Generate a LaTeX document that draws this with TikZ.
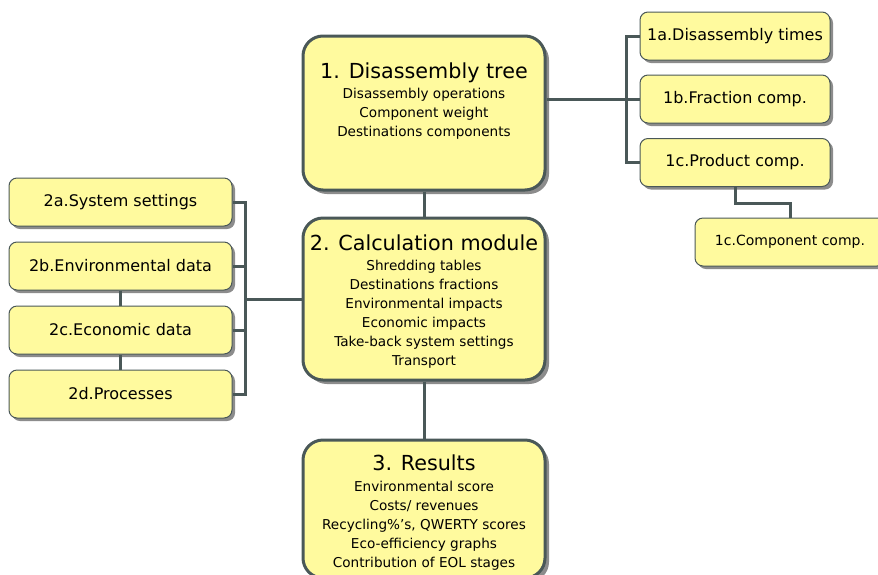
\documentclass[tikz,border=0pt]{standalone}
\usepackage{fontspec}
\setmainfont{DejaVu Sans}
\usetikzlibrary{shadows}
\definecolor{boxfill}{HTML}{FFFA9E}
\definecolor{edgecol}{HTML}{4A5858}
\definecolor{shade}{HTML}{8C8C8C}
\tikzset{
 bigbox/.style={draw=edgecol, line width=3pt, fill=boxfill, rounded corners=20pt, minimum width=242pt, inner sep=0pt,
   drop shadow={shadow xshift=4pt, shadow yshift=-4pt, fill=shade, opacity=1}},
 smallbox/.style={draw=edgecol, line width=1pt, fill=boxfill, rounded corners=8pt, minimum width=190pt, minimum height=48pt, inner sep=0pt,
   drop shadow={shadow xshift=3pt, shadow yshift=-3pt, fill=shade, opacity=1}, font=\fontsize{16}{19}\selectfont},
 leftbox/.style={smallbox, minimum width=223pt},
 conn/.style={draw=edgecol, line width=3pt},
 titletext/.style={font=\fontsize{20.7}{24}\selectfont, inner sep=0pt},
 subtext/.style={font=\fontsize{13.6}{19}\selectfont, align=center, inner sep=0pt},
}
\begin{document}
\begin{tikzpicture}[x=1pt,y=-1pt]
\useasboundingbox[fill=white] (0,0) rectangle (878,574);
% big boxes
\node[bigbox, minimum height=154pt] (b1) at (424,113) {};
\node[bigbox, minimum height=162pt] (b2) at (424,299) {};
\node[bigbox, minimum height=138pt] (b3) at (424,509) {};
\node[titletext] (t1) at (424,73) {1. Disassembly tree};
\node[subtext] (d1) at (424,114) {Disassembly operations\\Component weight\\Destinations components};
\node[titletext] (t2) at (424,243) {2. Calculation module};
\node[subtext] (d2) at (424,314.5) {Shredding tables\\Destinations fractions\\Environmental impacts\\Economic impacts\\Take-back system settings\\Transport};
\node[titletext] (t3) at (424,463) {3. Results};
\node[subtext] (d3) at (424,525.5) {Environmental score\\Costs/ revenues\\Recycling\%’s, QWERTY scores\\Eco-efficiency graphs\\Contribution of EOL stages};
% right boxes
\node[smallbox] (s1a) at (735,36) {1a.Disassembly times};
\node[smallbox] (s1b) at (735,99) {1b.Fraction comp.};
\node[smallbox] (s1c) at (735,162.5) {1c.Product comp.};
\node[smallbox, font=\fontsize{14}{17}\selectfont] (s1cc) at (790,242) {1c.Component comp.};
% left boxes
\node[leftbox] (s2a) at (120.5,202) {2a.System settings};
\node[leftbox] (s2b) at (120.5,266) {2b.Environmental data};
\node[leftbox] (s2c) at (120.5,330) {2c.Economic data};
\node[leftbox] (s2d) at (120.5,394) {2d.Processes};
% connectors
\draw[conn] (b1.south) -- (b2.north);
\draw[conn] (b2.south) -- (b3.north);
\draw[conn] (b1.east |- s1b) -- (s1b.west);
\draw[conn] (s1a.west) -- ++(-13,0) |- (s1c.west);
\draw[conn] (s1c.south) -- ++(0,16) -| (s1cc.north);
\coordinate (lb) at (245,299);
\draw[conn] (b2.west) -- (lb);
\draw[conn] (s2a.east) -- ++(13,0) |- (s2d.east);
\draw[conn] (s2b.east) -- ++(13,0);
\draw[conn] (s2c.east) -- ++(13,0);
\draw[conn] (s2b.south) -- (s2c.north);
\draw[conn] (s2c.south) -- (s2d.north);
\end{tikzpicture}
\end{document}
